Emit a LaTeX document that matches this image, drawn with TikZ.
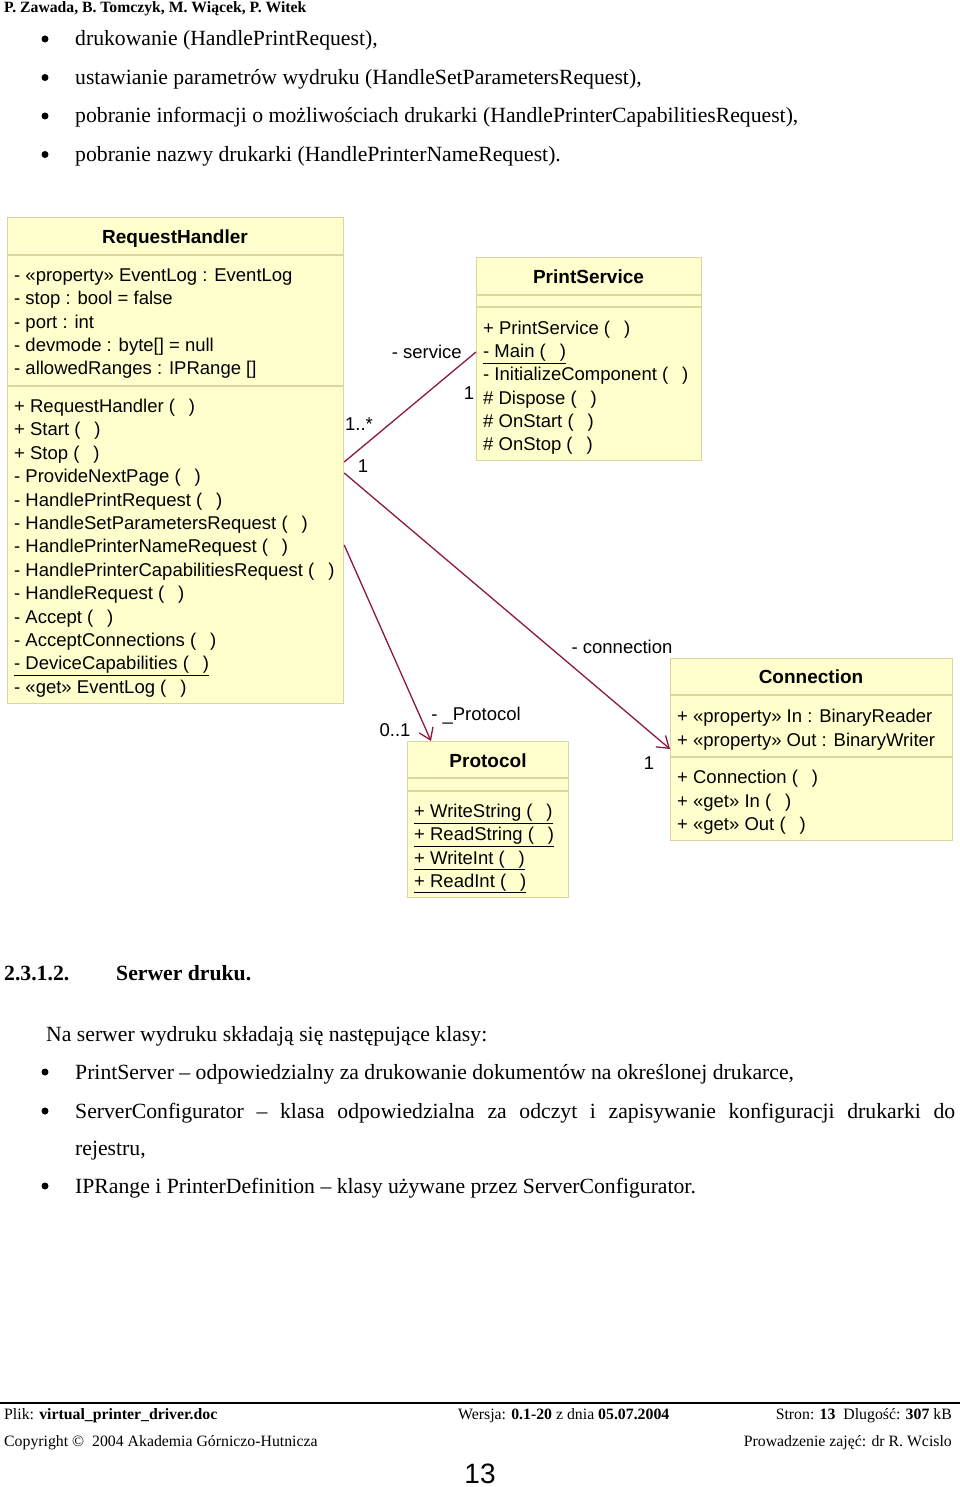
\documentclass[tikz,border=0pt]{standalone}
\usepackage{fontspec}
\setmainfont{Liberation Serif}
\setsansfont{Liberation Sans}
\usetikzlibrary{arrows.meta,positioning,calc}
\definecolor{umlfill}{RGB}{255,255,206}
\definecolor{umlline}{RGB}{222,212,160}
\definecolor{assoccol}{RGB}{140,24,72}
\newcommand{\noargs}{(\hspace{0.75em})}
\tikzset{
  classbox/.style={
    rectangle,
    draw=umlline,
    fill=umlfill,
    line width=1.2pt,
    inner sep=0pt,
    anchor=north west
  },
  classtitle/.style={font=\sffamily\bfseries\fontsize{19}{22}\selectfont, anchor=base, inner sep=0pt},
  member/.style={font=\sffamily\fontsize{18.5}{22}\selectfont, anchor=base west, inner sep=0pt},
  roletext/.style={font=\sffamily\fontsize{18.5}{22}\selectfont, anchor=base, inner sep=0pt},
  sepline/.style={draw=umlline, line width=1.2pt},
  assoc/.style={draw=assoccol, line width=1.3pt},
  navassoc/.style={assoc, -{Straight Barb[length=11pt,width=15pt,line width=1.3pt]}},
  bodytext/.style={font=\fontsize{21.7}{26}\selectfont, anchor=base west, inner sep=0pt},
  bulletmark/.style={circle, fill=black, inner sep=0pt, minimum size=7pt},
  foottext/.style={font=\fontsize{15.8}{19}\selectfont, inner sep=0pt}
}

\begin{document}
\begin{tikzpicture}[x=1pt,y=-1pt]
\useasboundingbox (0,0) rectangle (960,1487);
\fill[white] (0,0) rectangle (960,1487);

% page header and first list
\node[font=\bfseries\fontsize{15.7}{19}\selectfont, anchor=base west, inner sep=0pt] (head) at (4,13) {P. Zawada, B. Tomczyk, M. Wiącek, P. Witek};
\node[bulletmark] (b1) at (45,39) {};
\node[bodytext] (t1) at (75,46) {drukowanie (HandlePrintRequest),};
\node[bulletmark] (b2) at (45,77.5) {};
\node[bodytext] (t2) at (75,84.5) {ustawianie parametrów wydruku (HandleSetParametersRequest),};
\node[bulletmark] (b3) at (45,116) {};
\node[bodytext] (t3) at (75,123) {pobranie informacji o możliwościach drukarki (HandlePrinterCapabilitiesRequest),};
\node[bulletmark] (b4) at (45,154.5) {};
\node[bodytext] (t4) at (75,161.5) {pobranie nazwy drukarki (HandlePrinterNameRequest).};

% RequestHandler
\node[classbox, minimum width=336pt, minimum height=486pt] (rh) at (7,217) {};
\node[classtitle] (rh-title) at (175,243.5) {RequestHandler};
\draw[sepline] (7,255) -- (343,255);
\draw[sepline] (7,386) -- (343,386);
\foreach \m [count=\i from 0] in {- «property» EventLog : EventLog, - stop : bool = false, - port : int,
    - devmode : byte[] = null, - allowedRanges : IPRange []}
  \node[member] (rh-a\i) at (14,{281.5+23.25*\i}) {\m};
\foreach \m [count=\i from 0] in {+ RequestHandler \noargs, + Start \noargs, + Stop \noargs,
    - ProvideNextPage \noargs, - HandlePrintRequest \noargs, - HandleSetParametersRequest \noargs,
    - HandlePrinterNameRequest \noargs, - HandlePrinterCapabilitiesRequest \noargs,
    - HandleRequest \noargs, - Accept \noargs, - AcceptConnections \noargs,
    {\underline{- DeviceCapabilities \noargs}}, - «get» EventLog \noargs}
  \node[member] (rh-o\i) at (14,{412.5+23.4*\i}) {\m};

% PrintService
\node[classbox, minimum width=225pt, minimum height=203pt] (ps) at (476,257) {};
\node[classtitle] (ps-title) at (588.5,283.5) {PrintService};
\draw[sepline] (476,295) -- (701,295);
\draw[sepline] (476,307) -- (701,307);
\foreach \m [count=\i from 0] in {+ PrintService \noargs, {\underline{- Main \noargs}},
    - InitializeComponent \noargs, \# Dispose \noargs, \# OnStart \noargs, \# OnStop \noargs}
  \node[member] (ps-o\i) at (483,{334.5+23.2*\i}) {\m};

% Protocol
\node[classbox, minimum width=161pt, minimum height=156pt] (proto) at (407,741) {};
\node[classtitle] (proto-title) at (488,767.5) {Protocol};
\draw[sepline] (407,778) -- (568,778);
\draw[sepline] (407,791) -- (568,791);
\foreach \m [count=\i from 0] in {{\underline{+ WriteString \noargs}}, {\underline{+ ReadString \noargs}},
    {\underline{+ WriteInt \noargs}}, {\underline{+ ReadInt \noargs}}}
  \node[member] (proto-o\i) at (414,{817.5+23.3*\i}) {\m};

% Connection
\node[classbox, minimum width=282pt, minimum height=182pt] (conn) at (670,658) {};
\node[classtitle] (conn-title) at (811,683.5) {Connection};
\draw[sepline] (670,695) -- (952,695);
\draw[sepline] (670,757) -- (952,757);
\foreach \m [count=\i from 0] in {+ «property» In : BinaryReader, + «property» Out : BinaryWriter}
  \node[member] (conn-a\i) at (677,{722.5+23.5*\i}) {\m};
\foreach \m [count=\i from 0] in {+ Connection \noargs, + «get» In \noargs, + «get» Out \noargs}
  \node[member] (conn-o\i) at (677,{783.5+23.5*\i}) {\m};

% associations
\draw[assoc] ([yshift=-245pt]rh.north east) -- ([yshift=-95pt]ps.north west);
\draw[navassoc] ([yshift=-256pt]rh.north east) -- ([yshift=-91pt]conn.north west);
\draw[navassoc] ([yshift=-328pt]rh.north east) -- ([xshift=24pt]proto.north west);
\node[roletext, anchor=base east] (r-service) at (462,358.5) {- service};
\node[roletext] (m-ps) at (469,399.5) {1};
\node[roletext] (m-rh1) at (359,430.5) {1..*};
\node[roletext] (m-rh2) at (363,472.5) {1};
\node[roletext] (r-conn) at (622,653.5) {- connection};
\node[roletext] (m-conn) at (649,769.5) {1};
\node[roletext] (r-proto) at (476,720.5) {- \_Protocol};
\node[roletext] (m-proto) at (395,736.5) {0..1};

% section 2.3.1.2
\node[font=\bfseries\fontsize{21.7}{26}\selectfont, anchor=base west, inner sep=0pt] (sec-no) at (4,980) {2.3.1.2.};
\node[font=\bfseries\fontsize{21.7}{26}\selectfont, anchor=base west, inner sep=0pt] (sec-title) at (116,980) {Serwer druku.};
\node[bodytext] (intro) at (46,1041) {Na serwer wydruku składają się następujące klasy:};
\node[bulletmark] (c1) at (45,1072) {};
\node[bodytext] (u1) at (75,1079) {PrintServer – odpowiedzialny za drukowanie dokumentów na określonej drukarce,};
\node[bulletmark] (c2) at (45,1111) {};
\node[bodytext] (u2) at (75,1118) {\makebox[880pt][s]{ServerConfigurator – klasa odpowiedzialna za odczyt i zapisywanie konfiguracji drukarki do}};
\node[bodytext] (u2b) at (75,1155) {rejestru,};
\node[bulletmark] (c3) at (45,1186) {};
\node[bodytext] (u3) at (75,1193) {IPRange i PrinterDefinition – klasy używane przez ServerConfigurator.};

% footer
\draw[line width=1.5pt] (0,1403) -- (960,1403);
\node[foottext, anchor=base west] (f-file) at (4,1419) {Plik: \textbf{virtual\_printer\_driver.doc}};
\node[foottext, anchor=base west] (f-ver) at (458,1419) {Wersja: \textbf{0.1-20} z dnia \textbf{05.07.2004}};
\node[foottext, anchor=base east] (f-size) at (952,1419) {Stron: \textbf{13}\ \ Dlugość: \textbf{307} kB};
\node[foottext, anchor=base west] (f-copy) at (4,1446) {Copyright ©\ \ 2004 Akademia Górniczo-Hutnicza};
\node[foottext, anchor=base east] (f-lead) at (952,1446) {Prowadzenie zajęć: dr R. Wcislo};
\node[font=\sffamily\fontsize{28}{32}\selectfont, anchor=base, inner sep=0pt] (pageno) at (480,1483) {13};
\end{tikzpicture}
\end{document}
